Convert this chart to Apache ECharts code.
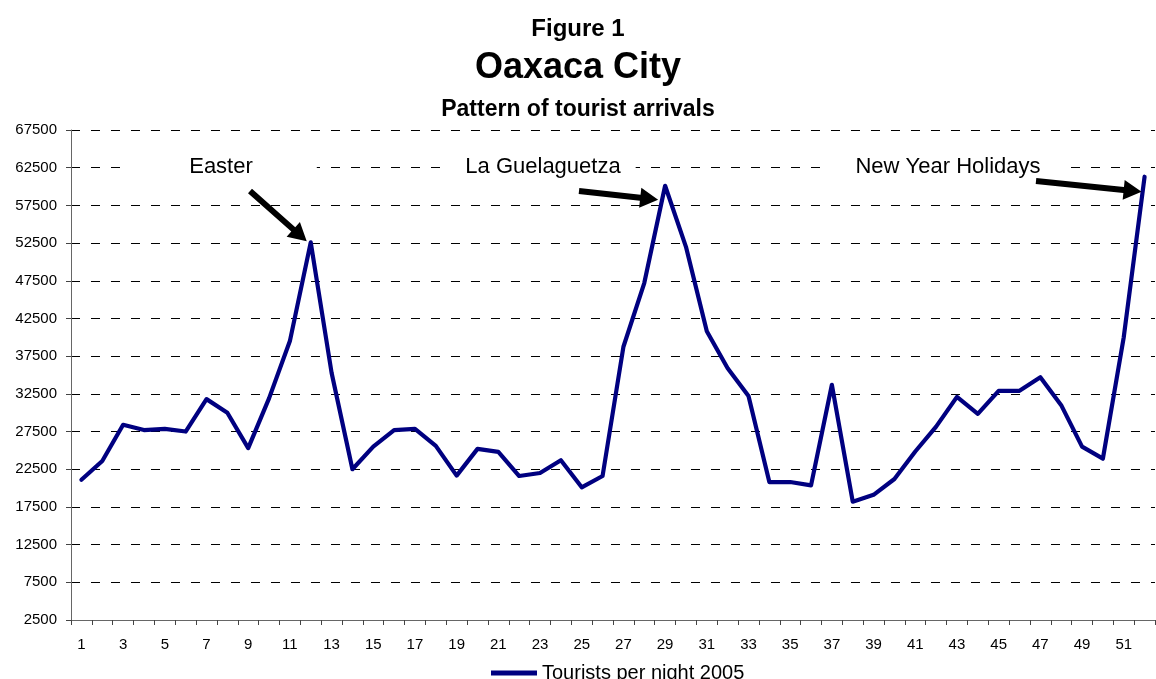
<!DOCTYPE html>
<html>
<head>
<meta charset="utf-8">
<script src="https://cdn.jsdelivr.net/npm/echarts@6/dist/echarts.min.js"></script>
<style>
html,body{margin:0;padding:0;background:#fff;}
#chart{width:1156px;height:679px;}
</style>
</head>
<body>
<div id="chart"></div>
<script>
// weeks of 2005
const weeks = [];
for (let i = 1; i <= 52; i++) weeks.push(String(i));

const touristsPerNight = [
  21100, 23600, 28400, 27700, 27850, 27500, 31800, 30000, 25300, 31900,
  39500, 52600, 35300, 22500, 25500, 27700, 27850, 25600, 21650, 25200,
  24800, 21600, 22000, 23700, 20100, 21600, 38750, 47200, 60100, 52000,
  40800, 35900, 32200, 20800, 20800, 20350, 33700, 18200, 19100, 21200,
  24850, 28150, 32100, 29850, 32900, 32900, 34700, 31000, 25500, 23900,
  40000, 61300
];

const yMin = 2500, yMax = 67500, yStep = 5000;

// annotation labels and the week they point at
const notes = [
  { text: 'Easter', week: 12, x: 221, y: 167, pad: [1, 64], tail: [250, 191], tipOff: [-4, -1] },
  { text: 'La Guelaguetza', week: 29, x: 543, y: 167, pad: [1, 15], tail: [579, 191], tipOff: [-7, 14] },
  { text: 'New Year Holidays', week: 52, x: 948, y: 167, pad: [1, 28], tail: [1036, 181], tipOff: [-3, 15] }
];

const font = 'Liberation Sans, Arial, sans-serif';
const chart = echarts.init(document.getElementById('chart'));

chart.setOption({
  animation: false,
  backgroundColor: '#fff',
  title: [
    { text: 'Figure 1', left: 'center', top: 12, textStyle: { fontFamily: font, fontSize: 24, fontWeight: 'bold', color: '#000' } },
    { text: 'Oaxaca City', left: 'center', top: 45, textStyle: { fontFamily: font, fontSize: 36, fontWeight: 'bold', color: '#000' } },
    { text: 'Pattern of tourist arrivals', left: 'center', top: 93, textStyle: { fontFamily: font, fontSize: 23, fontWeight: 'bold', color: '#000' } }
  ],
  legend: {
    left: 486, top: 658,
    icon: 'rect', itemWidth: 46, itemHeight: 5,
    textStyle: { fontFamily: font, fontSize: 20, color: '#000' },
    data: ['Tourists per night 2005']
  },
  grid: { left: 71, right: 1, top: 130, bottom: 59, containLabel: false },
  xAxis: {
    type: 'category',
    data: weeks,
    boundaryGap: true,
    axisLine: { show: true, lineStyle: { color: '#666', width: 1 } },
    axisTick: { show: true, inside: false, interval: 0, length: 5, lineStyle: { color: '#444', width: 1 } },
    axisLabel: { interval: 1, margin: 17, fontFamily: font, fontSize: 15, color: '#000' }
  },
  yAxis: {
    type: 'value',
    min: yMin, max: yMax, interval: yStep,
    axisLine: { show: true, lineStyle: { color: '#666', width: 1 } },
    axisTick: { show: true, inside: false, length: 5, lineStyle: { color: '#444', width: 1 } },
    axisLabel: { margin: 14, fontFamily: font, fontSize: 15, color: '#000', formatter: function (v) { return String(v); } },
    splitLine: { show: true, lineStyle: { color: '#000', type: [9, 11], width: 1 } }
  },
  series: [{
    name: 'Tourists per night 2005',
    type: 'line',
    data: touristsPerNight,
    showSymbol: false,
    symbol: 'none',
    color: '#000080',
    lineStyle: { color: '#000080', width: 4.2, join: 'round', cap: 'round' }
  }]
});

function arrowPoints(tail, tip) {
  const dx = tip[0] - tail[0], dy = tip[1] - tail[1];
  const len = Math.sqrt(dx * dx + dy * dy);
  const ux = dx / len, uy = dy / len;
  const nx = -uy, ny = ux;
  const w = 3, hw = 10, hl = 18;
  const hx = tip[0] - ux * hl, hy = tip[1] - uy * hl;
  return [
    [tail[0] + nx * w, tail[1] + ny * w],
    [hx + nx * w, hy + ny * w],
    [hx + nx * hw, hy + ny * hw],
    tip,
    [hx - nx * hw, hy - ny * hw],
    [hx - nx * w, hy - ny * w],
    [tail[0] - nx * w, tail[1] - ny * w]
  ];
}

const graphics = [];
notes.forEach(function (n) {
  const p = chart.convertToPixel({ seriesIndex: 0 }, [n.week - 1, touristsPerNight[n.week - 1]]);
  const tip = [p[0] + n.tipOff[0], p[1] + n.tipOff[1]];
  graphics.push({
    type: 'text', x: n.x, y: n.y, z: 10,
    style: {
      text: n.text, fontFamily: font, fontSize: 22, fill: '#000',
      align: 'center', verticalAlign: 'middle',
      backgroundColor: '#fff', padding: n.pad
    }
  });
  graphics.push({
    type: 'polygon', z: 11,
    shape: { points: arrowPoints(n.tail, tip) },
    style: { fill: '#000', stroke: null }
  });
});
chart.setOption({ graphic: graphics });
</script>
</body>
</html>
